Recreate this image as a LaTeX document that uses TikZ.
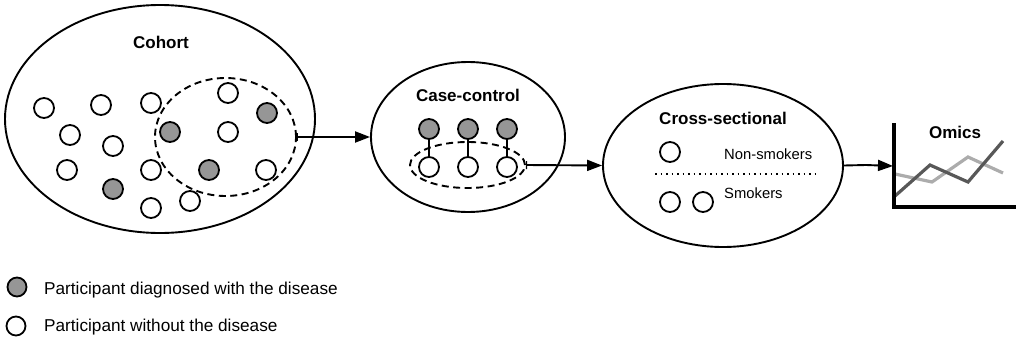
\documentclass[tikz,border=0pt]{standalone}
\usepackage{fontspec}
\setmainfont{Liberation Sans}
\usetikzlibrary{shapes.geometric,arrows.meta}
\definecolor{sick}{RGB}{150,150,150}
\definecolor{lightln}{RGB}{172,172,172}
\definecolor{darkln}{RGB}{88,88,88}
\tikzset{
  pers/.style={circle,draw,line width=1.8pt,minimum size=20pt,inner sep=0pt},
  sickp/.style={pers,fill=sick},
  wellp/.style={pers,fill=white},
  bigell/.style={ellipse,draw,line width=1.9pt,inner sep=0pt},
  dashell/.style={ellipse,draw,line width=1.9pt,dash pattern=on 7pt off 4.5pt,inner sep=0pt},
  ttl/.style={font=\fontsize{17}{20}\selectfont\bfseries},
  sm/.style={font=\fontsize{14.8}{17}\selectfont,anchor=west,inner sep=0pt},
  leg/.style={font=\fontsize{17.2}{20}\selectfont,anchor=west,inner sep=0pt},
  flow/.style={line width=1.9pt,{Bar[width=8pt,line width=1.2pt]}-{Triangle[length=15pt,width=11pt]}},
}
\begin{document}
\begin{tikzpicture}[x=1pt,y=-1pt]
\useasboundingbox (0,0) rectangle (1017,340);
% Cohort
\node[bigell,minimum width=310pt,minimum height=228pt] (coh) at (160,119) {};
\node[ttl] (cohl) at (161,42) {Cohort};
\node[dashell,minimum width=141pt,minimum height=118pt] (d1) at (225.5,137) {};
\node[wellp] (c1) at (44,108) {};
\node[wellp] (c2) at (101,105) {};
\node[wellp] (c3) at (151,103) {};
\node[wellp] (c4) at (228,93) {};
\node[sickp] (c5) at (267,113) {};
\node[wellp] (c6) at (70,135) {};
\node[wellp] (c7) at (113,146) {};
\node[sickp] (c8) at (170,132) {};
\node[wellp] (c9) at (228,132) {};
\node[wellp] (c10) at (67,170) {};
\node[wellp] (c11) at (151,170) {};
\node[sickp] (c12) at (209,170) {};
\node[wellp] (c13) at (266,170) {};
\node[sickp] (c14) at (113,189) {};
\node[wellp] (c15) at (151,208) {};
\node[wellp] (c16) at (190,201) {};
% Case-control
\node[bigell,minimum width=194pt,minimum height=150pt] (cc) at (468,137) {};
\node[ttl] (ccl) at (468,95) {Case-control};
\node[dashell,minimum width=115pt,minimum height=46pt] (d2) at (467.5,165) {};
\node[sickp] (g1) at (429,129) {};
\node[sickp] (g2) at (468,129) {};
\node[sickp] (g3) at (507,129) {};
\node[wellp] (w1) at (429,167) {};
\node[wellp] (w2) at (468,167) {};
\node[wellp] (w3) at (507,167) {};
\draw[line width=1.6pt] (g1) -- (w1);
\draw[line width=1.6pt] (g2) -- (w2);
\draw[line width=1.6pt] (g3) -- (w3);
% Cross-sectional
\node[bigell,minimum width=240pt,minimum height=163pt] (cs) at (723,165.5) {};
\node[ttl] (csl) at (723,118) {Cross-sectional};
\node[wellp] (s1) at (670,152) {};
\node[sm] (nsl) at (724,154) {Non-smokers};
\coordinate (dl) at (655,174);
\coordinate (dr) at (815,174);
\draw[line width=1.5pt,dash pattern=on 1.5pt off 4pt] (dl) -- (dr);
\node[wellp] (s2) at (670,202) {};
\node[wellp] (s3) at (703,202) {};
\node[sm] (sml) at (724,193) {Smokers};
% Omics
\coordinate (ax0) at (894,207);
\coordinate (axt) at (894,123);
\coordinate (axr) at (1016,207);
\node[ttl] (oml) at (955,132) {Omics};
\draw[lightln,line width=3.2pt] (895,174) -- (932,182) -- (968,157) -- (1003,173);
\draw[darkln,line width=3.2pt] (895,196) -- (930,165) -- (968,182) -- (1003,141);
\draw[line width=3.4pt] (axt) -- (ax0) -- (axr);
% flow arrows
\draw[flow] (d1.east) -- (cc.west);
\draw[flow] (d2.east) -- (cs.west);
\coordinate (omin) at (893,166);
\draw[line width=1.9pt,-{Triangle[length=15pt,width=11pt]}] (cs.east) -- (866,165) -- (omin);
% Legend
\node[sickp,minimum size=19pt] (lg1) at (17,287) {};
\node[leg] (lt1) at (44,290) {Participant diagnosed with the disease};
\node[wellp,minimum size=19pt] (lg2) at (16,326) {};
\node[leg] (lt2) at (44,327) {Participant without the disease};
\end{tikzpicture}
\end{document}
